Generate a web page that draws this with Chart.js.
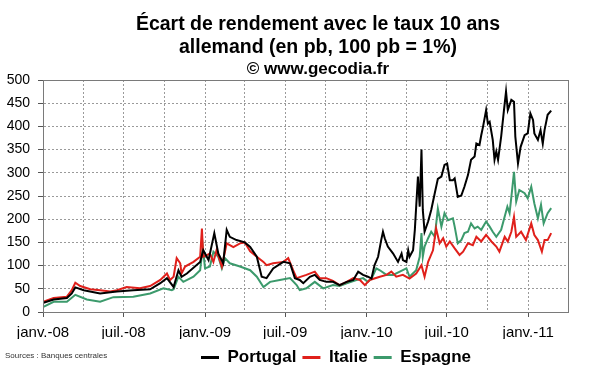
<!DOCTYPE html>
<html>
<head>
<meta charset="utf-8">
<script src="https://cdn.jsdelivr.net/npm/chart.js@4"></script>
<style>
  html, body { margin: 0; padding: 0; background: #fff; }
  #c { display: block; }
</style>
</head>
<body>
<canvas id="c" width="600" height="372"></canvas>
<script>
// x values are days since 1 Jan 2008
const tickDays   = [0, 91, 182, 274, 366, 456, 547, 639, 731, 821, 912, 1004, 1096, 1186];
const tickLabels = ['janv.-08', '', 'juil.-08', '', 'janv.-09', '', 'juil.-09', '', 'janv.-10', '', 'juil.-10', '', 'janv.-11', ''];
const seriesNames = ['Portugal', 'Italie', 'Espagne'];

const portugal = [[1,20],[24,27],[54,30],[65,40],[73,53],[92,47],[129,40],[167,44],[204,47],[242,49],[265,62],[280,73],[295,54],[306,90],[313,76],[325,83],[355,108],[362,133],[374,112],[387,170],[396,126],[407,105],[415,177],[422,162],[437,155],[456,150],[468,140],[483,119],[494,76],[505,73],[520,94],[543,108],[558,105],[569,73],[580,69],[588,62],[603,76],[614,80],[625,69],[640,65],[655,65],[670,58],[686,65],[701,69],[712,87],[723,80],[734,76],[742,72],[749,101],[757,119],[764,155],[768,173],[772,159],[779,141],[791,126],[802,108],[810,126],[813,112],[821,108],[825,133],[828,119],[836,133],[840,177],[847,292],[851,227],[855,350],[858,220],[862,173],[870,195],[877,220],[885,256],[892,287],[900,292],[907,317],[913,320],[919,284],[926,284],[930,288],[937,248],[945,251],[952,270],[960,295],[967,328],[975,335],[979,363],[986,360],[990,381],[994,399],[1001,435],[1005,406],[1009,410],[1016,371],[1020,328],[1024,346],[1028,328],[1035,378],[1041,432],[1046,475],[1050,435],[1058,457],[1064,453],[1067,378],[1073,320],[1079,356],[1088,381],[1095,385],[1101,428],[1107,414],[1110,385],[1118,371],[1124,392],[1129,363],[1133,392],[1140,425],[1148,434]];

const italie = [[1,22],[24,30],[54,33],[65,47],[73,63],[84,56],[107,49],[129,47],[152,44],[167,47],[189,54],[219,51],[242,56],[265,69],[280,83],[287,69],[295,76],[302,116],[310,105],[313,83],[321,98],[340,108],[355,119],[359,180],[362,119],[377,126],[385,108],[392,133],[404,98],[415,148],[430,140],[445,148],[456,150],[468,131],[483,119],[498,108],[505,101],[520,105],[543,108],[554,116],[565,90],[573,73],[595,80],[614,87],[625,73],[640,73],[655,67],[670,58],[686,65],[701,73],[716,69],[727,58],[738,69],[761,76],[776,80],[787,87],[798,76],[813,80],[828,72],[843,83],[855,101],[862,76],[870,108],[881,133],[888,180],[896,148],[904,159],[911,141],[919,152],[930,137],[941,123],[949,130],[960,148],[971,144],[979,162],[990,152],[1001,166],[1013,152],[1024,141],[1031,130],[1043,162],[1050,152],[1058,173],[1064,205],[1069,162],[1080,173],[1091,155],[1103,191],[1110,166],[1118,155],[1127,130],[1133,155],[1140,155],[1148,170]];

const espagne = [[1,11],[24,22],[54,22],[73,37],[99,27],[129,22],[159,32],[204,33],[242,40],[272,51],[291,47],[295,49],[306,76],[317,65],[340,76],[355,90],[361,141],[366,94],[377,98],[385,130],[396,119],[404,94],[411,116],[422,105],[445,98],[468,90],[483,76],[498,54],[513,65],[535,69],[558,73],[573,58],[580,47],[595,51],[614,65],[633,51],[655,58],[670,56],[686,62],[708,69],[723,73],[734,65],[742,72],[753,94],[761,90],[776,80],[791,80],[806,87],[821,94],[828,76],[843,90],[851,119],[855,170],[858,119],[862,141],[870,159],[877,173],[885,162],[892,223],[900,184],[907,213],[915,198],[926,202],[930,184],[937,148],[945,155],[952,170],[960,173],[967,191],[975,180],[982,184],[990,177],[1001,195],[1009,184],[1016,173],[1024,162],[1035,177],[1043,206],[1049,227],[1054,213],[1059,256],[1064,302],[1069,238],[1076,263],[1088,256],[1095,245],[1103,270],[1110,234],[1118,202],[1125,231],[1131,191],[1140,213],[1148,224]];

const FONT = "'Liberation Sans', Arial, sans-serif";

const frameAndSource = {
  id: 'frameAndSource',
  afterLayout(chart) {
    // shift the title blocks and the legend to where the original has them
    chart.boxes.forEach(b => {
      if (b !== chart.legend && b.position === 'top' && b.options && b.options.text !== undefined) {
        b.left += 34; b.right += 34;
      }
    });
    const L = chart.legend;
    if (L) {
      const dx = 52, dy = 343 - L.top;
      L.left += dx; L.right += dx; L.top += dy; L.bottom += dy;
    }
  },
  afterDatasetsDraw(chart) {
    const a = chart.chartArea, ctx = chart.ctx;
    ctx.save();
    ctx.strokeStyle = '#7a7a7a';
    ctx.lineWidth = 1;
    ctx.strokeRect(Math.round(a.left) + 0.5, Math.round(a.top) + 0.5, Math.round(a.right - a.left), Math.round(a.bottom - a.top));
    ctx.restore();
  },
  afterDraw(chart) {
    const ctx = chart.ctx;
    ctx.save();
    ctx.font = "8px " + FONT;
    ctx.fillStyle = '#333';
    ctx.textBaseline = 'middle';
    ctx.textAlign = 'left';
    ctx.fillText('Sources : Banques centrales', 5, 356);
    ctx.restore();
  }
};

const mk = (name, data, color) => ({
  label: name, data, borderColor: color, backgroundColor: color,
  borderWidth: 2, pointRadius: 0, tension: 0, fill: false
});

new Chart(document.getElementById('c'), {
  type: 'line',
  data: {
    datasets: [
      mk(seriesNames[0], portugal, '#000000'),
      mk(seriesNames[1], italie, '#e0201b'),
      mk(seriesNames[2], espagne, '#3c9a6c')
    ]
  },
  options: {
    responsive: false,
    devicePixelRatio: 1,
    animation: false,
    layout: { padding: { left: 0, right: 32, top: 0, bottom: 0 } },
    plugins: {
      title: {
        display: true,
        text: ['Écart de rendement avec le taux 10 ans', 'allemand (en pb, 100 pb = 1%)'],
        color: '#000',
        font: { family: FONT, size: 19.5, weight: 'bold', lineHeight: '23px' },
        padding: { top: 13, bottom: 0 }
      },
      subtitle: {
        display: true,
        text: '© www.gecodia.fr',
        color: '#000',
        font: { family: FONT, size: 17, weight: 'bold', lineHeight: '20px' },
        padding: { top: 0, bottom: 1 }
      },
      legend: {
        display: true,
        position: 'bottom',
        labels: {
          usePointStyle: true,
          pointStyle: 'line',
          pointStyleWidth: 18,
          padding: 6,
          color: '#000',
          font: { family: FONT, size: 17, weight: 'bold' },
          generateLabels(chart) {
            return Chart.defaults.plugins.legend.labels.generateLabels(chart).map(l => Object.assign(l, { lineWidth: 3 }));
          }
        }
      },
      tooltip: { enabled: false }
    },
    scales: {
      x: {
        type: 'linear',
        min: 0,
        max: 1186,
        afterFit(s) {
          const lh = s.chart.legend ? s.chart.legend.height : 0;
          s.height = 372 - 312 - lh;
        },
        afterBuildTicks(s) { s.ticks = tickDays.map(v => ({ value: v })); },
        ticks: {
          autoSkip: false,
          maxRotation: 0,
          padding: 7,
          color: '#000',
          font: { family: FONT, size: 15 },
          callback(v) { const i = tickDays.indexOf(v); return i >= 0 ? tickLabels[i] : ''; }
        },
        grid: {
          color: '#9a9a9a',
          lineWidth: 1,
          tickLength: 5,
          tickBorderDash: [],
          tickColor(c) { const i = tickDays.indexOf(c.tick ? c.tick.value : -1); return (i >= 0 && tickLabels[i]) ? '#555' : 'rgba(0,0,0,0)'; }
        },
        border: { display: true, color: '#555', width: 1, dash: [2, 2] }
      },
      y: {
        min: 0,
        max: 500,
        afterFit(s) { s.width = 43; },
        ticks: {
          stepSize: 50,
          padding: 8,
          color: '#000',
          font: { family: FONT, size: 14 }
        },
        grid: {
          color: '#9a9a9a',
          lineWidth: 1,
          tickLength: 5,
          tickBorderDash: [],
          tickColor: '#555'
        },
        border: { display: true, color: '#555', width: 1, dash: [2, 2] }
      }
    }
  },
  plugins: [frameAndSource]
});
</script>
</body>
</html>
